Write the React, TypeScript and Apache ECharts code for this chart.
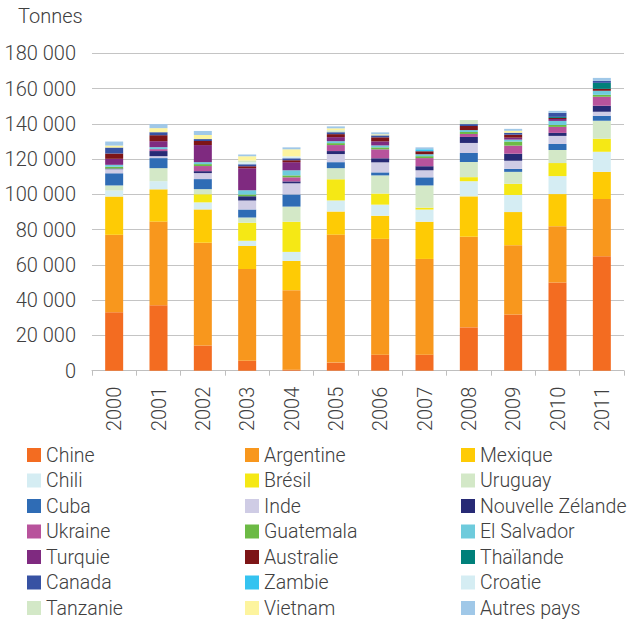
import React, { useEffect, useRef } from "react";
import * as echarts from "echarts";

const years = ["2000", "2001", "2002", "2003", "2004", "2005", "2006", "2007", "2008", "2009", "2010", "2011"];
const yTicks = [0, 20000, 40000, 60000, 80000, 100000, 120000, 140000, 160000, 180000];

const chine = [33100, 37100, 14300, 5700, 600, 4600, 9100, 9100, 24600, 31900, 50100, 64900];
const argentine = [44000, 47500, 58300, 52000, 45100, 72600, 65700, 54300, 51400, 39300, 31900, 32500];
const mexique = [21700, 18300, 18900, 13100, 16600, 13100, 13100, 21100, 22900, 18800, 18200, 15400];
const chili = [3400, 4600, 4000, 2900, 5100, 6300, 6300, 6900, 8600, 9700, 10200, 11400];
const bresil = [0, 0, 4600, 10300, 17100, 12000, 6300, 1100, 2300, 6300, 7400, 7400];
const uruguay = [2900, 7400, 2900, 2900, 8600, 6300, 10300, 12600, 8600, 6800, 7400, 10200];
const cuba = [6900, 5700, 5700, 4600, 6900, 3400, 1700, 4600, 5100, 1700, 3400, 2800];
const inde = [2300, 1100, 3400, 5100, 6300, 4600, 5700, 4000, 5700, 4600, 4600, 2300];
const nouvelleZelande = [400, 2900, 1100, 2300, 1100, 1700, 2300, 2300, 3400, 4000, 1700, 3400];
const ukraine = [0, 1100, 2900, 0, 2300, 3400, 5100, 4600, 1700, 4600, 3400, 5100];
const guatemala = [1000, 0, 1100, 1100, 1100, 1100, 1100, 1100, 1100, 2300, 1100, 1100];
const elSalvador = [1100, 1100, 1100, 2300, 2900, 1100, 1100, 1100, 1100, 1100, 2300, 2300];
const turquie = [3400, 3400, 9700, 12600, 4600, 2300, 2300, 0, 0, 1100, 1100, 0];
const australie = [3000, 3400, 2300, 1100, 1100, 1700, 2300, 1700, 2300, 1700, 600, 1100];
const thailande = [0, 0, 0, 0, 0, 0, 0, 0, 0, 0, 600, 3400];
const canada = [3400, 1700, 1100, 1100, 1100, 1100, 1100, 0, 1100, 1100, 2300, 1100];
const zambie = [0, 0, 0, 0, 0, 0, 0, 1100, 0, 0, 0, 0];
const croatie = [0, 0, 0, 1100, 1100, 0, 0, 0, 0, 0, 0, 0];
const tanzanie = [0, 0, 0, 1100, 0, 1100, 0, 0, 2300, 0, 0, 0];
const vietnam = [1100, 2300, 2300, 2300, 4000, 1100, 600, 0, 0, 1100, 0, 0];
const autresPays = [2300, 2300, 2300, 1100, 1100, 1100, 1100, 1100, 0, 1100, 1100, 1700];

const seriesNames = [
  "Chine", "Argentine", "Mexique", "Chili", "Brésil", "Uruguay", "Cuba", "Inde",
  "Nouvelle Zélande", "Ukraine", "Guatemala", "El Salvador", "Turquie", "Australie",
  "Thaïlande", "Canada", "Zambie", "Croatie", "Tanzanie", "Vietnam", "Autres pays",
];
const seriesData = [
  chine, argentine, mexique, chili, bresil, uruguay, cuba, inde, nouvelleZelande, ukraine,
  guatemala, elSalvador, turquie, australie, thailande, canada, zambie, croatie, tanzanie,
  vietnam, autresPays,
];
const seriesColors = [
  "#f36c21", "#f8971d", "#fecb05", "#d5edf3", "#f5e815", "#d3e8c7", "#2f6cb5", "#cfcce5",
  "#272a75", "#b8539c", "#6cba45", "#6ecbdc", "#7f2a80", "#7d1517", "#00807a", "#3752a3",
  "#35c3f0", "#d5edf3", "#d3e8c7", "#fdf49e", "#a0c8e8",
];

const legendCol1 = ["Chine", "Chili", "Cuba", "Ukraine", "Turquie", "Canada", "Tanzanie"];
const legendCol2 = ["Argentine", "Brésil", "Inde", "Guatemala", "Australie", "Zambie", "Vietnam"];
const legendCol3 = ["Mexique", "Uruguay", "Nouvelle Zélande", "El Salvador", "Thaïlande", "Croatie", "Autres pays"];

const FONT = "Roboto";
const TEXT = "#404040";

function fmt(v: number): string {
  return String(v).replace(/\B(?=(\d{3})+(?!\d))/g, " ");
}

export default function App() {
  const ref = useRef<HTMLDivElement>(null);
  useEffect(() => {
    if (!ref.current) return;
    const chart = echarts.init(ref.current, undefined, { renderer: "svg" });
    const legendBase = {
      orient: "vertical" as const,
      top: 445,
      height: 190,
      itemWidth: 14,
      itemHeight: 14,
      itemGap: 5.5,
      padding: 0,
      icon: "rect",
      selectedMode: false,
      textStyle: { fontFamily: FONT, fontSize: 19.5, fontWeight: 300, color: TEXT, lineHeight: 20 },
    };
    chart.setOption({
      animation: false,
      textStyle: { fontFamily: FONT },
      grid: { left: 92, right: 5, top: 53.4, bottom: 248.3, containLabel: false },
      graphic: [
        {
          type: "text",
          left: 18,
          top: 6,
          style: { text: "Tonnes", fontFamily: FONT, fontSize: 20, fontWeight: 300, fill: TEXT },
        },
      ],
      legend: [
        { ...legendBase, left: 27, data: legendCol1 },
        { ...legendBase, left: 245, data: legendCol2 },
        { ...legendBase, left: 461, data: legendCol3 },
      ],
      xAxis: {
        type: "category",
        data: years,
        axisLine: { show: true, lineStyle: { color: "#bfbfbf", width: 1 } },
        axisTick: { show: true, length: 5, lineStyle: { color: "#bfbfbf" } },
        axisLabel: {
          rotate: 90,
          margin: 16,
          fontFamily: FONT,
          fontSize: 20,
          fontWeight: 300,
          color: TEXT,
        },
      },
      yAxis: {
        type: "value",
        min: yTicks[0],
        max: yTicks[yTicks.length - 1],
        interval: yTicks[1] - yTicks[0],
        axisLine: { show: false },
        axisTick: { show: false },
        splitLine: { show: true, lineStyle: { color: "#c4c4c4", width: 1 } },
        axisLabel: {
          margin: 16,
          fontFamily: FONT,
          fontSize: 20,
          fontWeight: 300,
          color: TEXT,
          formatter: (v: number) => fmt(v),
        },
      },
      series: seriesNames.map((name, i) => ({
        name,
        type: "bar",
        stack: "total",
        barWidth: 18,
        data: seriesData[i],
        itemStyle: { color: seriesColors[i] },
      })),
    });
    return () => chart.dispose();
  }, []);
  return (
    <div
      ref={ref}
      style={{ position: "absolute", left: 0, top: 0, width: 629, height: 619 }}
    />
  );
}
